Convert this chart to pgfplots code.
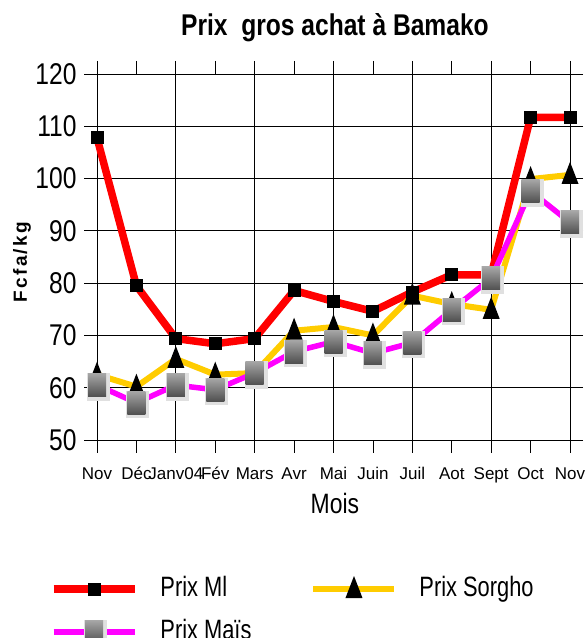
\documentclass[border=0pt]{standalone}
\usepackage{fontspec}
\setmainfont{Liberation Sans}
\newfontfamily\cond[FakeStretch=0.82]{Liberation Sans}
\newfontfamily\condl[FakeStretch=0.78]{Liberation Sans}
\newfontfamily\spaced[LetterSpace=12]{Liberation Sans}
\usepackage{pgfplots}
\pgfplotsset{compat=1.18}

\definecolor{mlred}{RGB}{255,0,0}
\definecolor{sorgho}{RGB}{255,204,0}
\definecolor{mais}{RGB}{255,0,255}

\pgfdeclareverticalshading{maisshade}{100bp}{color(0bp)=(black); color(14bp)=(black); color(16bp)=(black!75); color(100bp)=(black!18)}

\pgfdeclareplotmark{maissq}{%
  \begin{pgfscope}%
  \pgfpathrectangle{\pgfpoint{-10bp}{-15.5bp}}{\pgfpoint{23bp}{27.5bp}}%
  \pgfsetfillcolor{black!12}\pgfusepathqfill
  \pgfpathrectangle{\pgfpoint{-9bp}{-11.5bp}}{\pgfpoint{18bp}{23bp}}%
  \pgfshadepath{maisshade}{0}\pgfusepath{discard}%
  \end{pgfscope}%
}
\pgfdeclareplotmark{tri}{%
  \begin{pgfscope}%
  \pgfsetfillcolor{black}%
  \pgfpathmoveto{\pgfpoint{0bp}{13bp}}%
  \pgfpathlineto{\pgfpoint{-8.5bp}{-9bp}}%
  \pgfpathlineto{\pgfpoint{8.5bp}{-9bp}}%
  \pgfpathclose\pgfusepathqfill
  \end{pgfscope}%
}
\pgfdeclareplotmark{sq}{%
  \begin{pgfscope}%
  \pgfsetfillcolor{black}%
  \pgfpathrectangle{\pgfpoint{-6.5bp}{-6.5bp}}{\pgfpoint{13bp}{13bp}}%
  \pgfusepathqfill
  \end{pgfscope}%
}

\begin{document}
\begin{tikzpicture}[x=1bp,y=1bp]
\useasboundingbox (0,0) rectangle (588,638);
\begin{axis}[
  at={(97bp,198bp)}, anchor=south west,
  scale only axis, width=473bp, height=366bp,
  xmin=0, xmax=12, ymin=50, ymax=120,
  xtick={0,...,12},
  xticklabels={Nov,Déc,Janv04,Fév,Mars,Avr,Mai,Juin,Juil,Aot,Sept,Oct,Nov},
  ytick={50,60,...,120},
  tick align=outside,
  major tick length=13bp,
  ymajorgrids,
  extra x ticks={0,2,...,12},
  extra x tick labels={},
  extra x tick style={grid=major, major tick length=0pt},
  grid style={black, line width=0.8bp},
  axis line style={black, line width=0.8bp},
  tick style={black, line width=0.8bp},
  x tick label style={font=\fontsize{17bp}{19bp}\selectfont, text height=12.5bp, text depth=4bp, yshift=-10bp},
  y tick label style={font=\cond\fontsize{30bp}{32bp}\selectfont, xshift=-4bp},
  /pgf/number format/assume math mode=true,
  title={Prix\ \ gros achat à Bamako},
  title style={font=\cond\bfseries\fontsize{30bp}{32bp}\selectfont, at={(axis description cs:0.503,1.0902)}, anchor=base},
  xlabel={Mois},
  xlabel style={font=\cond\fontsize{28bp}{30bp}\selectfont, at={(axis description cs:0.503,-0.202)}, anchor=base},
  ylabel={Fcfa/kg},
  ylabel style={font=\spaced\bfseries\fontsize{19bp}{21bp}\selectfont, at={(axis description cs:-0.1586,0.486)}, anchor=center},
  clip=false,
  legend columns=2,
  legend style={draw=none, fill=none, inner sep=0pt, outer sep=0pt,
    at={(axis description cs:-0.0994,-0.3716)}, anchor=north west,
    font=\condl\fontsize{28bp}{30bp}\selectfont,
    cells={anchor=west},
    nodes={inner xsep=0pt, inner ysep=0pt, text height=20bp, text depth=6bp},
    row sep=17bp,
    /tikz/column 1/.style={column sep=22bp},
    /tikz/column 2/.style={column sep=59bp},
    /tikz/column 3/.style={column sep=22bp},
  },
  legend image code/.code={\draw[#1, mark repeat=2, mark phase=2] plot coordinates {(0bp,0bp) (40.5bp,0bp) (81bp,0bp)};},
]
\addplot[mlred, line width=7.5bp, mark=sq] coordinates {
  (0,107.8) (1,79.5) (2,69.4) (3,68.4) (4,69.4) (5,78.6) (6,76.5)
  (7,74.6) (8,78.3) (9,81.6) (10,81.6) (11,111.7) (12,111.7)};
\addlegendentry{Prix Ml}
\addplot[sorgho, line width=6bp, mark=tri] coordinates {
  (0,62.5) (1,60.2) (2,65.5) (3,62.5) (4,62.8) (5,70.9) (6,71.6)
  (7,70.0) (8,77.6) (9,76.0) (10,74.9) (11,99.9) (12,100.7)};
\addlegendentry{Prix Sorgho}
\addplot[mais, line width=5.5bp, mark=maissq] coordinates {
  (0,60.5) (1,57.1) (2,60.5) (3,59.6) (4,62.8) (5,66.9) (6,68.8)
  (7,66.6) (8,68.6) (9,74.9) (10,80.9) (11,97.6) (12,91.6)};
\addlegendentry{Prix Maïs}
\end{axis}
\end{tikzpicture}
\end{document}
